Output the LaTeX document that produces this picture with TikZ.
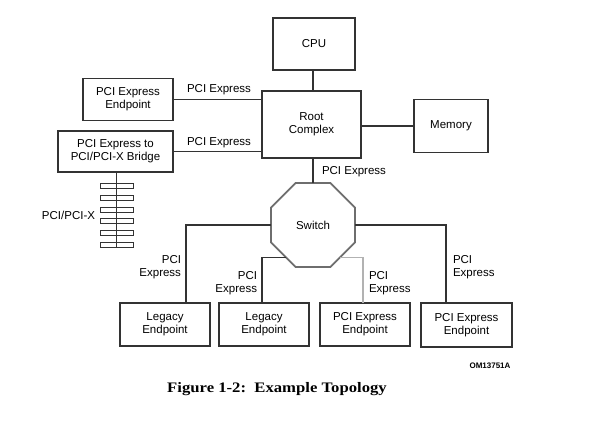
\documentclass[tikz,border=0pt]{standalone}
\usepackage{fontspec}
\setmainfont{Liberation Sans}
\newfontfamily\capfont[FakeStretch=1.15]{Liberation Serif}
\usetikzlibrary{shapes.geometric}
\definecolor{ink}{HTML}{333333}
\definecolor{swgray}{HTML}{6E6E6E}
\begin{document}
\begin{tikzpicture}[x=1pt,y=-1pt,
  every node/.style={font=\fontsize{11.5}{13}\selectfont, text=black},
  box/.style={draw=ink, line width=1.3pt, inner sep=0pt, outer sep=0pt, align=center},
  wire/.style={draw=ink, line width=1.3pt},
  graywire/.style={draw=gray!60, line width=1.5pt},
  lbl/.style={inner sep=0pt, outer sep=0pt},
  busbar/.style={draw=ink, line width=1pt, minimum width=33pt, minimum height=5pt, inner sep=0pt, outer sep=0pt, fill=white}
]
\useasboundingbox (0,0) rectangle (593,421);

\node[box, minimum width=82pt, minimum height=52pt] (cpu) at (314,44) {CPU};
\node[box, minimum width=99pt, minimum height=67pt] (root) at (311.5,124.5) {Root\\Complex};
\node[box, minimum width=90pt, minimum height=42pt] (ep) at (128,99.5) {PCI Express\\Endpoint};
\node[box, minimum width=115pt, minimum height=41pt] (br) at (115.5,151.5) {PCI Express to\\PCI/PCI-X Bridge};
\node[box, minimum width=74pt, minimum height=53pt] (mem) at (451,126) {Memory};
\node[regular polygon, regular polygon sides=8, minimum size=90.9pt, inner sep=0pt, outer sep=0pt,
      draw=swgray, line width=1.8pt] (sw) at (313,225) {Switch};

\node[box, minimum width=90pt, minimum height=43pt] (l1) at (165,324.5) {Legacy\\Endpoint};
\node[box, minimum width=90pt, minimum height=43pt] (l2) at (264,324.5) {Legacy\\Endpoint};
\node[box, minimum width=90pt, minimum height=43pt] (e3) at (365,324.5) {PCI Express\\Endpoint};
\node[box, minimum width=91pt, minimum height=44pt] (e4) at (466.5,325) {PCI Express\\Endpoint};

% bus
\foreach \i/\yy in {1/186,2/198,3/210,4/221,5/233,6/245}
  \node[busbar] (bar\i) at (116.5,\yy) {};
\draw[wire, line width=1.1pt] ([xshift=1pt]br.south) -- (bar6.south);
\foreach \i in {1,...,6} \draw[draw=ink, line width=1pt] (bar\i.north west) rectangle (bar\i.south east);

% connectors
\draw[wire] (sw.north |- cpu.south) -- (sw.north |- root.north);
\draw[wire] (ep.east) -- (ep.east -| root.west);
\draw[wire] (br.east) -- (br.east -| root.west);
\draw[wire] (mem.west) -- (mem.west -| root.east);
\draw[wire] (sw.north) -- (sw.north |- root.south);
\draw[wire] (sw.west) -| ([xshift=21pt]l1.north);
\draw[wire] (sw.230) -| ([xshift=-2pt]l2.north);
\draw[graywire] (sw.310) -| ([xshift=-2pt]e3.north);
\draw[wire] (sw.east) -| ([xshift=-20.5pt]e4.north);

% labels
\node[lbl] (t1) at (219,90) {PCI Express};
\node[lbl] (t2) at (219,143) {PCI Express};
\node[lbl, anchor=west] (t3) at (322,172) {PCI Express};
\node[lbl, anchor=east] (t4) at (95,215) {PCI/PCI-X};
\node[lbl, anchor=east, align=right] (t5) at (181,267) {PCI\\Express};
\node[lbl, anchor=east, align=right] (t6) at (257,283) {PCI\\Express};
\node[lbl, anchor=west, align=left] (t7) at (369,283) {PCI\\Express};
\node[lbl, anchor=west, align=left] (t8) at (453,267) {PCI\\Express};

\node[lbl, font=\fontsize{8}{9}\selectfont\bfseries] (om) at (490,366) {OM13751A};
\node[lbl, font=\fontsize{14.5}{16}\selectfont\capfont\bfseries] (cap) at (277,389) {Figure 1-2:\ \ Example Topology};
\end{tikzpicture}
\end{document}
